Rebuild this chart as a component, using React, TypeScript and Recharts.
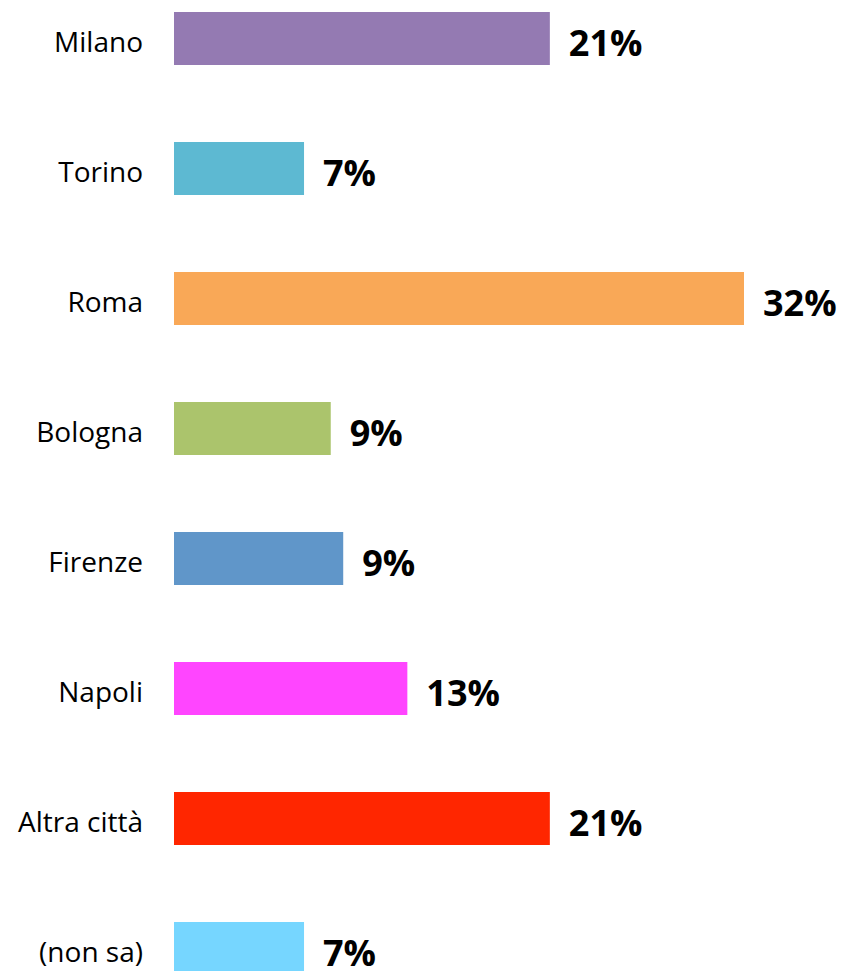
import React from 'react';
import { BarChart, Bar, XAxis, YAxis, Cell, LabelList } from 'recharts';

const categories = ['Milano', 'Torino', 'Roma', 'Bologna', 'Firenze', 'Napoli', 'Altra città', '(non sa)'];
const values = [21.1, 7.3, 32, 8.8, 9.5, 13.1, 21.1, 7.3];
const valueLabels = ['21%', '7%', '32%', '9%', '9%', '13%', '21%', '7%'];
const colors = ['#947AB2', '#5DB9D2', '#F9A857', '#ABC46C', '#6096C9', '#FF45FF', '#FF2600', '#76D6FF'];

const data = categories.map((name, i) => ({ name, value: values[i], label: valueLabels[i] }));

const FONT = '"Open Sans", sans-serif';

const Tick = (props: any) => {
  const { x, y, payload } = props;
  return (
    <text x={x} y={y} dy={3} textAnchor="end" dominantBaseline="central" fontFamily={FONT} fontSize={28} fill="#000">
      {payload.value}
    </text>
  );
};

const ValueLabel = (props: any) => {
  const { x, y, width, height, index } = props;
  return (
    <text
      x={x + width + 19}
      y={y + height / 2}
      dy={4}
      textAnchor="start"
      dominantBaseline="central"
      fontFamily={FONT}
      fontWeight={700}
      fontSize={36}
      fill="#000"
    >
      {valueLabels[index]}
    </text>
  );
};

export default function App() {
  return (
    <div style={{ position: 'absolute', left: 0, top: -27.5, width: 842, height: 1040 }}>
      <BarChart
        width={842}
        height={1040}
        data={data}
        layout="vertical"
        margin={{ top: 0, right: 98, bottom: 0, left: 0 }}
        barCategoryGap={0}
      >
        <XAxis type="number" domain={[0, 32]} hide />
        <YAxis
          type="category"
          dataKey="name"
          width={174}
          axisLine={false}
          tickLine={false}
          tickSize={0}
          tickMargin={31}
          tick={<Tick />}
          interval={0}
        />
        <Bar dataKey="value" barSize={53} isAnimationActive={false}>
          {data.map((d, i) => (
            <Cell key={d.name} fill={colors[i]} />
          ))}
          <LabelList dataKey="label" content={<ValueLabel />} />
        </Bar>
      </BarChart>
    </div>
  );
}
